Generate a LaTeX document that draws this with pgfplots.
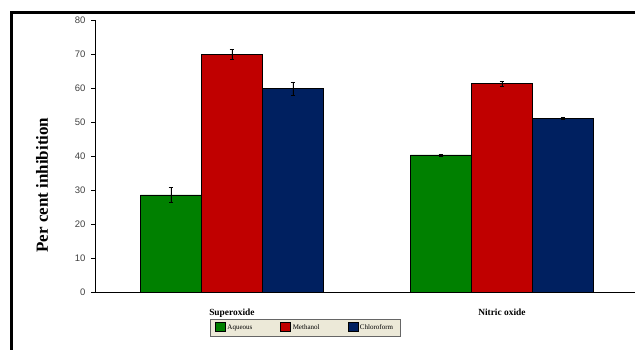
\documentclass[border=0pt]{standalone}
\usepackage{pgfplots}
\pgfplotsset{compat=1.18}
\usepackage{fontspec}
\setmainfont{Liberation Serif}
\newfontfamily\arialf{Liberation Sans}
\definecolor{cgreen}{RGB}{0,128,0}
\definecolor{cred}{RGB}{192,0,0}
\definecolor{cblue}{RGB}{0,32,96}
\definecolor{legbg}{RGB}{236,233,216}
\begin{document}
\begin{tikzpicture}[x=1pt,y=1pt]
\useasboundingbox (0,0) rectangle (635,349);
\begin{scope}
\clip (0,0) rectangle (635,349);
\draw[line width=3pt] (11,-5) -- (11,336) -- (645,336);
\end{scope}
\begin{axis}[
  at={(95pt,57pt)}, anchor=south west,
  scale only axis, width=540pt, height=272pt,
  ybar=0pt, bar width=61pt,
  xmin=-0.507, xmax=1.493,
  ymin=0, ymax=80,
  ytick={0,10,...,80},
  xtick={0,1},
  xticklabels={Superoxide,Nitric oxide},
  extra x ticks={0.5,1.493},
  extra x tick labels={},
  extra x tick style={major tick length=3pt, tick style={black}},
  x tick style={draw=none},
  axis x line*=bottom, axis y line*=left,
  tick align=outside,
  major tick length=4pt,
  axis line style={black, line width=0.5pt},
  y tick style={black, line width=0.5pt},
  /pgf/number format/assume math mode=true,
  yticklabel style={font=\arialf\fontsize{9.5}{10}\selectfont, text=black!75, xshift=-2pt},
  xticklabel style={font=\bfseries\fontsize{9.4}{10}\selectfont, yshift=-9pt},
  ylabel={Per cent inhibition},
  ylabel style={font=\bfseries\fontsize{17}{18}\selectfont, at={(axis description cs:-0.098,0.393)}, anchor=center},
  legend style={at={(axis description cs:0.389,-0.1305)}, anchor=center,
    fill=legbg, draw=black!60, font=\fontsize{7}{8}\selectfont,
    legend columns=3, inner xsep=5pt, inner ysep=3.5pt,
    /tikz/every even column/.append style={column sep=26pt}},
  legend image code/.code={\draw[#1, draw=black] (0pt,-3.5pt) rectangle (10pt,5pt);},
  error bars/y dir=both, error bars/y explicit,
  error bars/error bar style={black, line width=0.5pt},
  error bars/error mark options={black, mark size=2.2pt, rotate=90},
]
\addplot[fill=cgreen, draw=black, line width=0.4pt] coordinates {(0,28.6) +- (0,2.1) (1,40.3) +- (0,0.3)};
\addplot[fill=cred, draw=black, line width=0.4pt] coordinates {(0,69.9) +- (0,1.5) (1,61.3) +- (0,0.8)};
\addplot[fill=cblue, draw=black, line width=0.4pt] coordinates {(0,59.8) +- (0,2.0) (1,51.0) +- (0,0.3)};
\legend{Aqueous,Methanol,Chloroform}
\end{axis}
\end{tikzpicture}
\end{document}
